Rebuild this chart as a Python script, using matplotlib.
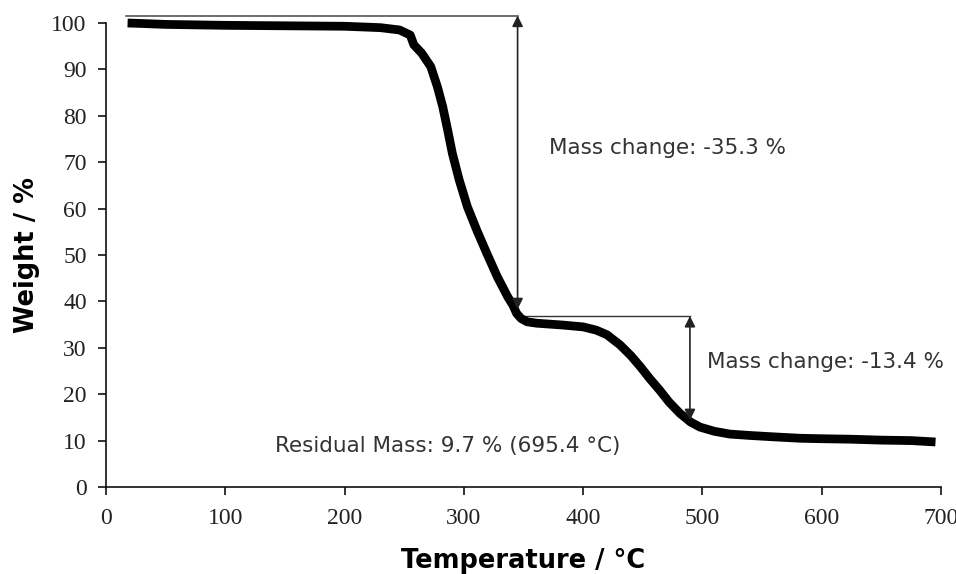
import matplotlib
matplotlib.use("Agg")
import matplotlib.pyplot as plt

# Thermogravimetric curve: temperature (°C) vs remaining weight (%)
temperature = [18, 30, 50, 100, 150, 200, 230, 246, 255, 258, 264.6, 272.2,
               277.7, 282.2, 286.4, 290.3, 296.0, 302.9, 310.7, 319.1, 328.0,
               336.7, 341, 344.2, 348, 353, 361, 383, 400, 411, 420, 431, 440,
               448, 456, 464, 472, 481, 490, 498, 510, 523, 540, 560, 582, 600,
               624, 650, 675, 695.4]
weight = [100.0, 99.9, 99.7, 99.5, 99.4, 99.3, 99.0, 98.5, 97.4, 95.3, 93.5,
          90.6, 86.3, 82.0, 76.9, 71.9, 66.2, 60.4, 55.4, 50.4, 45.3, 41.0,
          39.2, 37.4, 36.3, 35.6, 35.3, 34.9, 34.5, 33.8, 32.8, 30.6, 28.3,
          25.9, 23.3, 20.9, 18.3, 15.9, 14.0, 12.9, 12.0, 11.4, 11.1, 10.8,
          10.5, 10.4, 10.3, 10.1, 10.0, 9.7]

x_ticks = [0, 100, 200, 300, 400, 500, 600, 700]
y_ticks = [0, 10, 20, 30, 40, 50, 60, 70, 80, 90, 100]

step1_label = "Mass change: -35.3 %"
step2_label = "Mass change: -13.4 %"
residual_label = "Residual Mass: 9.7 % (695.4 \u00b0C)"

fig = plt.figure(figsize=(9.56, 5.74), dpi=100)
ax = fig.add_axes([0.111, 0.1516, 0.8733, 0.8083])

ax.plot(temperature, weight, color="black", lw=6.3,
        solid_joinstyle="round", solid_capstyle="butt", clip_on=False, zorder=3)

ax.set_xlim(0, 700)
ax.set_ylim(0, 100)
ax.set_xticks(x_ticks)
ax.set_yticks(y_ticks)

for side in ("top", "right"):
    ax.spines[side].set_visible(False)
for side in ("left", "bottom"):
    ax.spines[side].set_linewidth(1.2)
    ax.spines[side].set_color("#111111")

ax.tick_params(axis="both", direction="out", length=6, width=1.2, color="#111111")
ax.tick_params(axis="x", pad=9)
ax.tick_params(axis="y", pad=8)
for lbl in ax.get_xticklabels() + ax.get_yticklabels():
    lbl.set_fontfamily("Liberation Serif")
    lbl.set_fontsize(17)
    lbl.set_color("#222222")

ax.set_xlabel("Temperature / \u00b0C", fontsize=18.5, fontweight="bold",
              family="DejaVu Sans", labelpad=14)
ax.set_ylabel("Weight / %", fontsize=18.5, fontweight="bold",
              family="DejaVu Sans", labelpad=8)

# Reference lines and step arrows
ax.plot([17, 345], [101.6, 101.6], color="#555555", lw=1.2, clip_on=False)
ax.plot([349, 489.5], [36.85, 36.85], color="#333333", lw=1.0, clip_on=False)

arrow_style = dict(arrowstyle="<|-|>", color="#222222", lw=1.2,
                   mutation_scale=16, shrinkA=0, shrinkB=0)
ax.annotate("", xy=(345, 101.6), xytext=(345, 38.3),
            arrowprops=arrow_style, annotation_clip=False)
ax.annotate("", xy=(489.5, 36.85), xytext=(489.5, 14.4),
            arrowprops=arrow_style, annotation_clip=False)

note_font = dict(family="DejaVu Sans", size=15.5, color="#333333", va="center", ha="left")
ax.text(371, 73, step1_label, **note_font)
ax.text(504, 26.9, step2_label, **note_font)
ax.text(142, 8.8, residual_label, **note_font)

fig.savefig("out.png", dpi=100)
